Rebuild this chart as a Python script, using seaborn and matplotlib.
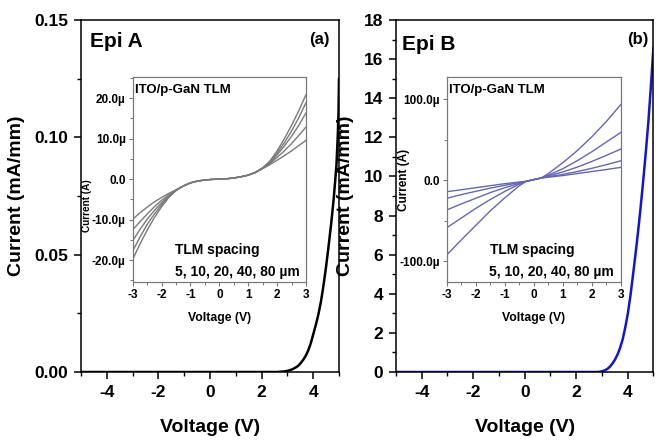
import numpy as np
import pandas as pd
import seaborn as sns
import matplotlib
matplotlib.use("Agg")
import matplotlib.pyplot as plt
from matplotlib.ticker import FixedLocator, FixedFormatter, MultipleLocator

# ---------------- data ----------------
# Main I-V curves (current density in mA/mm)
volt_a = [-5.0, -4.0, -3.0, -2.0, -1.0, 0.0, 1.0, 2.0, 2.5, 2.6, 2.7, 2.8, 2.9, 3.0,
          3.1, 3.2, 3.3, 3.4, 3.5, 3.6, 3.7, 3.8, 3.9, 4.0, 4.1, 4.2, 4.3, 4.4, 4.5,
          4.6, 4.7, 4.8, 4.9, 4.95, 4.98, 5.0]
curr_a = [0.0, 0.0, 0.0, 0.0, 0.0, 0.0, 0.0, 0.0, 0.0, 0.0, 0.0001, 0.0002, 0.0003, 0.0005,
          0.0008, 0.0012, 0.0018, 0.0025, 0.0036, 0.0050, 0.0067, 0.0090, 0.0120, 0.0160,
          0.0200, 0.0245, 0.0300, 0.0370, 0.0450, 0.0540, 0.0635, 0.0745, 0.0880, 0.1000,
          0.1100, 0.1250]

volt_b = [-5.0, -4.0, -3.0, -2.0, -1.0, 0.0, 1.0, 2.0, 2.5, 2.8, 2.9, 3.0, 3.1, 3.2,
          3.3, 3.4, 3.5, 3.6, 3.7, 3.8, 3.9, 4.0, 4.1, 4.2, 4.3, 4.4, 4.5, 4.6, 4.7,
          4.8, 4.9, 5.0]
curr_b = [0.0, 0.0, 0.0, 0.0, 0.0, 0.0, 0.0, 0.0, 0.0, 0.0, 0.01, 0.04, 0.08, 0.15,
          0.26, 0.42, 0.62, 0.88, 1.22, 1.65, 2.25, 2.95, 3.85, 4.90, 6.00, 7.15, 8.40,
          9.75, 11.20, 12.75, 14.60, 16.60]

# TLM spacings (um)
spacings = [5, 10, 20, 40, 80]

# Inset (a): TLM I-V on Epi A, current in uA
tlm_volt_a = [-3.0, -2.75, -2.5, -2.25, -2.0, -1.75, -1.5, -1.25, -1.0, -0.75, -0.5,
              -0.25, 0.0, 0.25, 0.5, 0.75, 1.0, 1.25, 1.5, 1.75, 2.0, 2.25, 2.5, 2.75, 3.0]
tlm_a_5 = [-19.8, -16.0, -12.6, -9.5, -6.8, -4.5, -2.8, -1.7, -0.9, -0.45, -0.2,
           -0.05, 0.0, 0.1, 0.3, 0.6, 1.0, 1.7, 2.8, 4.5, 7.0, 10.0, 13.3, 16.9, 20.9]
tlm_a_10 = [-17.7, -14.3, -11.2, -8.6, -6.3, -4.3, -2.8, -1.7, -0.9, -0.45, -0.2,
            -0.05, 0.0, 0.1, 0.3, 0.6, 1.0, 1.7, 2.8, 4.3, 6.5, 9.0, 11.9, 15.2, 18.9]
tlm_a_20 = [-15.2, -12.4, -9.9, -7.7, -5.8, -4.1, -2.7, -1.7, -0.9, -0.45, -0.2,
            -0.05, 0.0, 0.1, 0.3, 0.6, 1.0, 1.7, 2.7, 4.1, 6.0, 8.2, 10.6, 13.3, 16.4]
tlm_a_40 = [-12.5, -10.5, -8.6, -6.8, -5.2, -3.9, -2.7, -1.7, -0.9, -0.45, -0.2,
            -0.05, 0.0, 0.1, 0.3, 0.6, 1.0, 1.7, 2.7, 3.9, 5.4, 7.0, 8.8, 10.8, 12.9]
tlm_a_80 = [-9.9, -8.3, -6.9, -5.6, -4.5, -3.5, -2.6, -1.7, -0.9, -0.45, -0.2,
            -0.05, 0.0, 0.1, 0.3, 0.6, 1.0, 1.6, 2.6, 3.6, 4.7, 5.8, 7.0, 8.3, 9.6]

# Inset (b): TLM I-V on Epi B, current in uA
tlm_volt_b = [-3.0, -2.5, -2.0, -1.5, -1.0, -0.5, -0.25, 0.0, 0.25, 0.5, 1.0, 1.5, 2.0, 2.5, 3.0]
tlm_b_5 = [-92.6, -74.0, -56.0, -38.0, -22.0, -7.0, -1.5, 0.5, 2.5, 8.0, 21.5, 36.5, 53.5, 72.5, 93.5]
tlm_b_10 = [-58.9, -47.0, -35.0, -24.0, -14.0, -5.0, -1.5, 0.5, 2.5, 6.0, 14.0, 24.0, 35.0, 47.0, 58.9]
tlm_b_20 = [-37.0, -29.5, -22.5, -15.5, -9.5, -4.0, -1.5, 0.5, 2.5, 5.0, 10.0, 16.0, 23.0, 30.5, 38.3]
tlm_b_40 = [-22.6, -18.0, -14.0, -10.0, -6.5, -3.0, -1.5, 0.5, 2.5, 4.0, 7.0, 10.5, 14.5, 19.0, 23.8]
tlm_b_80 = [-14.4, -12.0, -9.5, -7.0, -4.5, -2.5, -1.5, 0.5, 2.5, 3.5, 5.5, 8.0, 10.5, 13.0, 15.7]

# Tick labels
main_xticks = [-4, -2, 0, 2, 4]
a_yticks = [0.0, 0.05, 0.10, 0.15]
a_yticklabels = ["0.00", "0.05", "0.10", "0.15"]
b_yticks = [0, 2, 4, 6, 8, 10, 12, 14, 16, 18]
inset_xticks = [-3, -2, -1, 0, 1, 2, 3]
ia_yticks = [-20, -10, 0, 10, 20]
ia_yticklabels = ["-20.0\u00b5", "-10.0\u00b5", "0.0", "10.0\u00b5", "20.0\u00b5"]
ib_yticks = [-100, 0, 100]
ib_yticklabels = ["-100.0\u00b5", "0.0", "100.0\u00b5"]

# ---------------- style ----------------
sns.set_style("ticks")
plt.rcParams["font.family"] = ["Liberation Sans", "DejaVu Sans"]
plt.rcParams["font.weight"] = "bold"
plt.rcParams["axes.labelweight"] = "bold"
plt.rcParams["axes.unicode_minus"] = False
for key in ("text.color", "axes.labelcolor", "xtick.color", "ytick.color",
            "xtick.labelcolor", "ytick.labelcolor"):
    plt.rcParams[key] = "black"

fig = plt.figure(figsize=(6.58, 4.40), dpi=100)

ax_a = fig.add_axes([0.1231, 0.1545, 0.3921, 0.800])
ax_b = fig.add_axes([0.6018, 0.1545, 0.3913, 0.800])
in_a = fig.add_axes([0.2017, 0.3598, 0.2634, 0.4659])
in_b = fig.add_axes([0.6789, 0.3598, 0.2649, 0.4645])

main_df_a = pd.DataFrame({"V": volt_a, "I": curr_a})
main_df_b = pd.DataFrame({"V": volt_b, "I": curr_b})
sns.lineplot(data=main_df_a, x="V", y="I", ax=ax_a, color="black", lw=1.8,
             sort=False, estimator=None)
sns.lineplot(data=main_df_b, x="V", y="I", ax=ax_b, color="#1414d4", lw=1.8,
             sort=False, estimator=None)


def tlm_frame(volts, series):
    rows = []
    for sp, vals in zip(spacings, series):
        for v, i in zip(volts, vals):
            rows.append({"V": v, "I": i, "spacing": sp})
    return pd.DataFrame(rows)


df_ia = tlm_frame(tlm_volt_a, [tlm_a_5, tlm_a_10, tlm_a_20, tlm_a_40, tlm_a_80])
df_ib = tlm_frame(tlm_volt_b, [tlm_b_5, tlm_b_10, tlm_b_20, tlm_b_40, tlm_b_80])
sns.lineplot(data=df_ia, x="V", y="I", hue="spacing", ax=in_a,
             palette=["#7a7a7a"] * 5, lw=1.0, legend=False, sort=False, estimator=None)
sns.lineplot(data=df_ib, x="V", y="I", hue="spacing", ax=in_b,
             palette=["#6666b8"] * 5, lw=1.0, legend=False, sort=False, estimator=None)

# ---------------- main axes ----------------
ylabel_x = {ax_a: -0.217, ax_b: -0.162}
for ax in (ax_a, ax_b):
    ax.set_xlim(-5, 5)
    ax.xaxis.set_major_locator(FixedLocator(main_xticks))
    ax.xaxis.set_minor_locator(MultipleLocator(1))
    ax.tick_params(which="major", direction="out", length=5, width=1.1,
                   labelsize=12.5, pad=4, top=False, right=False)
    ax.tick_params(which="minor", direction="out", length=3, width=1.0,
                   top=False, right=False)
    for s in ax.spines.values():
        s.set_visible(True)
        s.set_linewidth(1.1)
        s.set_color("black")
    ax.set_xlabel("Voltage (V)", fontsize=14, fontweight="bold", labelpad=14)
    ax.set_ylabel("Current (mA/mm)", fontsize=14, fontweight="bold")
    ax.yaxis.set_label_coords(ylabel_x[ax], 0.5)

ax_a.set_ylim(0, 0.15)
ax_a.yaxis.set_major_locator(FixedLocator(a_yticks))
ax_a.yaxis.set_major_formatter(FixedFormatter(a_yticklabels))
ax_a.yaxis.set_minor_locator(MultipleLocator(0.025))
ax_b.set_ylim(0, 18)
ax_b.yaxis.set_major_locator(FixedLocator(b_yticks))
ax_b.yaxis.set_minor_locator(MultipleLocator(1))
for ax in (ax_a, ax_b):
    for t in ax.get_xticklabels() + ax.get_yticklabels():
        t.set_fontweight("bold")

ax_a.text(0.035, 0.965, "Epi A", transform=ax_a.transAxes, fontsize=15,
          fontweight="bold", ha="left", va="top")
ax_a.text(0.965, 0.967, "(a)", transform=ax_a.transAxes, fontsize=12,
          fontweight="bold", ha="right", va="top")
ax_b.text(0.022, 0.958, "Epi B", transform=ax_b.transAxes, fontsize=15,
          fontweight="bold", ha="left", va="top")
ax_b.text(0.98, 0.967, "(b)", transform=ax_b.transAxes, fontsize=12,
          fontweight="bold", ha="right", va="top")

# ---------------- insets ----------------
inset_cfg = [
    (in_a, (-25.3, 25.3), ia_yticks, ia_yticklabels, 5, 7.2, (-0.237, 0.37)),
    (in_b, (-125.5, 126.8), ib_yticks, ib_yticklabels, 50, 8.5, (-0.21, 0.5)),
]
for ax, ylim, yt, ytl, ymin_step, ylab_size, ylab_pos in inset_cfg:
    ax.set_xlim(-3, 3)
    ax.set_ylim(*ylim)
    ax.xaxis.set_major_locator(FixedLocator(inset_xticks))
    ax.xaxis.set_minor_locator(MultipleLocator(0.5))
    ax.yaxis.set_major_locator(FixedLocator(yt))
    ax.yaxis.set_major_formatter(FixedFormatter(ytl))
    ax.yaxis.set_minor_locator(MultipleLocator(ymin_step))
    ax.tick_params(which="major", direction="out", length=3, width=0.8,
                   color="#777777", labelsize=8.5, pad=2, top=False, right=False)
    ax.tick_params(which="minor", direction="out", length=2, width=0.7,
                   color="#777777", top=False, right=False)
    for s in ax.spines.values():
        s.set_visible(True)
        s.set_linewidth(0.9)
        s.set_color("#7a7a7a")
    ax.set_facecolor("white")
    ax.set_xlabel("Voltage (V)", fontsize=8.8, fontweight="bold", labelpad=8)
    ax.set_ylabel("Current (A)", fontsize=ylab_size, fontweight="bold")
    ax.yaxis.set_label_coords(*ylab_pos)
    for t in ax.get_xticklabels() + ax.get_yticklabels():
        t.set_fontweight("bold")
    ax.text(0.014, 0.965, "ITO/p-GaN TLM", transform=ax.transAxes, fontsize=9.5,
            fontweight="bold", ha="left", va="top")
    ax.text(0.246, 0.19, "TLM spacing", transform=ax.transAxes, fontsize=10,
            fontweight="bold", ha="left", va="top")
    ax.text(0.244, 0.081, "5, 10, 20, 40, 80 \u00b5m", transform=ax.transAxes,
            fontsize=10, fontweight="bold", ha="left", va="top")

fig.savefig("out.png", dpi=100, facecolor="white")
